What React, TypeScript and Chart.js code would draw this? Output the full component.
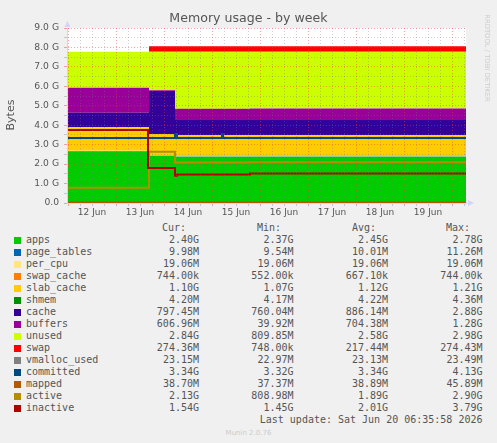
import React, { useEffect, useRef } from "react";
import { Chart, registerables } from "chart.js";

Chart.register(...registerables);

// ---- time axis (hours since 12 Jun 00:00), step breakpoints ----
const hours = [-0.5, 40, 40.5, 53.5, 54.5, 77, 77.5, 91, 199];

// ---- stacked areas (G) ----
const apps = [2.66, 2.66, 2.42, 2.38, 2.38, 2.38, 2.38, 2.38, 2.4];
const pageTables = [0.01, 0.01, 0.01, 0.01, 0.01, 0.01, 0.01, 0.01, 0.01];
const perCpu = [0.019, 0.019, 0.019, 0.019, 0.019, 0.019, 0.019, 0.019, 0.019];
const swapCache = [0.0006, 0.0006, 0.0007, 0.0007, 0.0007, 0.0007, 0.0007, 0.0007, 0.0007];
const slabCache = [1.21, 1.21, 1.1, 1.08, 1.08, 1.08, 1.08, 1.08, 1.1];
const shmem = [0.0042, 0.0042, 0.0042, 0.0042, 0.0042, 0.0042, 0.0042, 0.0042, 0.0042];
const cache = [0.74, 0.74, 2.2, 0.78, 0.78, 0.78, 0.78, 0.78, 0.8];
const buffers = [1.28, 1.28, 0.04, 0.57, 0.57, 0.57, 0.57, 0.58, 0.61];
const unused = [1.86, 1.86, 1.99, 2.94, 2.94, 2.94, 2.94, 2.93, 2.84];
const swap = [0.0007, 0.0007, 0.274, 0.274, 0.274, 0.274, 0.274, 0.274, 0.274];

// ---- lines (G) ----
const vmallocUsed = [0.023, 0.023, 0.023, 0.023, 0.023, 0.023, 0.023, 0.023, 0.023];
const committed = [3.34, 3.34, 3.34, 3.55, 3.34, 3.55, 3.34, 3.34, 3.34];
const mapped = [0.039, 0.039, 0.039, 0.039, 0.039, 0.039, 0.039, 0.039, 0.039];
const active = [0.79, 0.79, 2.64, 2.08, 2.08, 2.08, 2.08, 2.09, 2.13];
const inactive = [3.75, 1.8, 1.8, 1.4, 1.46, 1.46, 1.46, 1.52, 1.54];

// ---- axis labels ----
const dayLabels = ["12 Jun", "13 Jun", "14 Jun", "15 Jun", "16 Jun", "17 Jun", "18 Jun", "19 Jun"];
const yTickValues = [0, 0.5, 1, 1.5, 2, 2.5, 3, 3.5, 4, 4.5, 5, 5.5, 6, 6.5, 7, 7.5, 8, 8.5, 9];
const TITLE = "Memory usage - by week";
const Y_TITLE = "Bytes";
const SIDE_TEXT = "RRDTOOL / TOBI OETIKER";

// ---- legend table ----
const legendNames = ["apps", "page_tables", "per_cpu", "swap_cache", "slab_cache", "shmem", "cache", "buffers", "unused", "swap", "vmalloc_used", "committed", "mapped", "active", "inactive"];
const legendColors = ["#00CC00", "#0066B3", "#FFE680", "#FF8000", "#FFCC00", "#008F00", "#330099", "#990099", "#CCFF00", "#FF0000", "#808080", "#00487D", "#B35A00", "#B38F00", "#B30000"];
const curValues = ["2.40G", "9.98M", "19.06M", "744.00k", "1.10G", "4.20M", "797.45M", "606.96M", "2.84G", "274.36M", "23.15M", "3.34G", "38.70M", "2.13G", "1.54G"];
const minValues = ["2.37G", "9.54M", "19.06M", "552.00k", "1.07G", "4.17M", "760.04M", "39.92M", "809.85M", "748.00k", "22.97M", "3.32G", "37.37M", "808.98M", "1.45G"];
const avgValues = ["2.45G", "10.01M", "19.06M", "667.10k", "1.12G", "4.22M", "886.14M", "704.38M", "2.58G", "217.44M", "23.13M", "3.34G", "38.89M", "1.89G", "2.01G"];
const maxValues = ["2.78G", "11.26M", "19.06M", "744.00k", "1.21G", "4.36M", "2.88G", "1.28G", "2.98G", "274.43M", "23.49M", "4.13G", "45.89M", "2.90G", "3.79G"];
const headers = ["Cur:", "Min:", "Avg:", "Max:"];
const LAST_UPDATE = "Last update: Sat Jun 20 06:35:58 2026";
const VERSION = "Munin 2.0.76";

const areaValues = [apps, pageTables, perCpu, swapCache, slabCache, shmem, cache, buffers, unused, swap];
const lineValues = [vmallocUsed, committed, mapped, active, inactive];

const MAJOR = "rgba(235, 60, 60, 0.45)";
const MINOR = "rgba(120, 120, 120, 0.35)";
const AXIS = "#CFD6F8";
const FONT_COLOR = "#555555";

const decor = {
  id: "decor",
  beforeDraw(chart: any) {
    const { ctx, chartArea: a } = chart;
    ctx.save();
    ctx.fillStyle = "#FFFFFF";
    ctx.fillRect(a.left, a.top, a.right - a.left, a.bottom - a.top);
    ctx.restore();
  },
  afterDraw(chart: any) {
    const { ctx, chartArea: a } = chart;
    ctx.save();
    ctx.fillStyle = FONT_COLOR;
    ctx.textAlign = "center";
    ctx.textBaseline = "middle";
    ctx.font = '12.6px "DejaVu Sans"';
    ctx.fillText(TITLE, 248.5, 19);
    ctx.save();
    ctx.translate(11, 115);
    ctx.rotate(-Math.PI / 2);
    ctx.font = '11px "DejaVu Sans"';
    ctx.fillText(Y_TITLE, 0, 0);
    ctx.restore();
    ctx.save();
    ctx.translate(487, 58);
    ctx.rotate(Math.PI / 2);
    ctx.fillStyle = "#CCCCCC";
    ctx.font = '6.8px "DejaVu Sans"';
    ctx.fillText(SIDE_TEXT, 0, 0);
    ctx.restore();
    // arrows
    ctx.fillStyle = AXIS;
    ctx.beginPath();
    ctx.moveTo(a.left + 0.5, a.top - 7);
    ctx.lineTo(a.left - 2.5, a.top - 1);
    ctx.lineTo(a.left + 3.5, a.top - 1);
    ctx.closePath();
    ctx.fill();
    ctx.fillRect(a.right, a.bottom - 0.5, 2, 1);
    ctx.beginPath();
    ctx.moveTo(a.right + 8, a.bottom);
    ctx.lineTo(a.right + 2, a.bottom - 3);
    ctx.lineTo(a.right + 2, a.bottom + 3);
    ctx.closePath();
    ctx.fill();
    ctx.restore();
  },
};

export default function App() {
  const ref = useRef<HTMLCanvasElement>(null);

  useEffect(() => {
    const canvas = ref.current;
    if (!canvas) return;
    const pts = (vals: number[]) => hours.map((h, i) => ({ x: h, y: vals[i] }));
    const datasets: any[] = [];
    areaValues.forEach((vals, i) => {
      datasets.push({
        label: legendNames[i],
        data: pts(vals),
        backgroundColor: legendColors[i],
        borderColor: "rgba(0,0,0,0)",
        borderWidth: 0,
        fill: i === 0 ? "origin" : "-1",
        stepped: true,
        pointRadius: 0,
        stack: "mem",
        order: 100,
      });
    });
    lineValues.forEach((vals, j) => {
      const i = areaValues.length + j;
      datasets.push({
        label: legendNames[i],
        data: pts(vals),
        borderColor: legendColors[i],
        backgroundColor: legendColors[i],
        borderWidth: 2,
        fill: false,
        stepped: true,
        pointRadius: 0,
        stack: "line" + j,
        order: 10 - j,
      });
    });

    const xTicks: number[] = [];
    for (let v = 0; v <= 198; v += 6) xTicks.push(v);

    const chart = new Chart(canvas, {
      type: "line",
      data: { datasets },
      options: {
        responsive: false,
        animation: false,
        devicePixelRatio: 1,
        events: [],
        layout: { padding: { top: 28, right: 31, left: 0, bottom: 0 } },
        plugins: {
          legend: { display: false },
          title: { display: false },
          tooltip: { enabled: false },
        },
        scales: {
          x: {
            type: "linear",
            min: -0.5,
            max: 199,
            afterBuildTicks: (s: any) => {
              s.ticks = xTicks.map((v) => ({ value: v }));
            },
            afterFit: (s: any) => {
              s.height = 17;
            },
            ticks: {
              z: 2,
              autoSkip: false,
              maxRotation: 0,
              minRotation: 0,
              padding: 1,
              color: FONT_COLOR,
              font: { family: "DejaVu Sans", size: 9 },
              callback: (v: any) => {
                const n = Number(v);
                return n % 24 === 12 ? dayLabels[(n - 12) / 24] ?? "" : "";
              },
            },
            grid: {
              z: 1,
              color: (c: any) => (c.tick && c.tick.value % 24 === 0 ? MAJOR : MINOR),
              lineWidth: 1,
              tickLength: 3,
            },
            border: { z: 2, display: true, color: AXIS, dash: [1, 2] },
          },
          y: {
            type: "linear",
            min: 0,
            max: 9,
            stacked: true,
            afterBuildTicks: (s: any) => {
              s.ticks = yTickValues.map((v) => ({ value: v }));
            },
            afterFit: (s: any) => {
              s.width = 67;
            },
            ticks: {
              z: 2,
              autoSkip: false,
              padding: 5,
              color: FONT_COLOR,
              font: { family: "DejaVu Sans", size: 9.2 },
              callback: (v: any) => {
                const n = Number(v);
                if (!Number.isInteger(n)) return "";
                return n === 0 ? "0.0" : n.toFixed(1) + " G";
              },
            },
            grid: {
              z: 1,
              color: (c: any) => (c.tick && Number.isInteger(c.tick.value) ? MAJOR : MINOR),
              lineWidth: 1,
              tickLength: 3,
            },
            border: { z: 2, display: true, color: AXIS, dash: [1, 2] },
          },
        },
      } as any,
      plugins: [decor],
    });
    return () => chart.destroy();
  }, []);

  const mono = '"DejaVu Sans Mono", monospace';
  const rowTop = (i: number) => 240 + 12 * i - 6;
  const colRight = [199, 293.5, 388, 482.5];
  const headRight = [186, 281, 376, 470];
  const cols = [curValues, minValues, avgValues, maxValues];

  const txt = (content: string, top: number, right: number, key: string) => (
    <div
      key={key}
      style={{
        position: "absolute",
        left: 0,
        width: right,
        top,
        textAlign: "right",
        whiteSpace: "pre",
        lineHeight: "12px",
        height: 12,
      }}
    >
      {content}
    </div>
  );

  return (
    <div
      style={{
        position: "absolute",
        left: 0,
        top: 0,
        width: 497,
        height: 443,
        background: "#F0F0F0",
        overflow: "hidden",
        fontFamily: mono,
        fontSize: 10,
        color: FONT_COLOR,
      }}
    >
      <canvas ref={ref} width={497} height={220} style={{ position: "absolute", left: 0, top: 0, display: "block" }} />
      {headers.map((h, c) => txt(h, 228 - 6, headRight[c], "h" + c))}
      {legendNames.map((name, i) => (
        <React.Fragment key={name}>
          <div
            style={{
              position: "absolute",
              left: 14,
              top: 240 + 12 * i - 3.5,
              width: 7,
              height: 7,
              background: legendColors[i],
            }}
          />
          <div style={{ position: "absolute", left: 26, top: rowTop(i), lineHeight: "12px", whiteSpace: "pre" }}>{name}</div>
          {cols.map((col, c) => txt(col[i], rowTop(i), colRight[c], name + c))}
        </React.Fragment>
      ))}
      {txt(LAST_UPDATE, 420 - 6, 482.5, "lu")}
      <div
        style={{
          position: "absolute",
          left: 0,
          width: 497,
          top: 432.7 - 5,
          lineHeight: "10px",
          textAlign: "center",
          fontFamily: '"DejaVu Sans", sans-serif',
          fontSize: 7,
          color: "#CCCCCC",
        }}
      >
        {VERSION}
      </div>
    </div>
  );
}
